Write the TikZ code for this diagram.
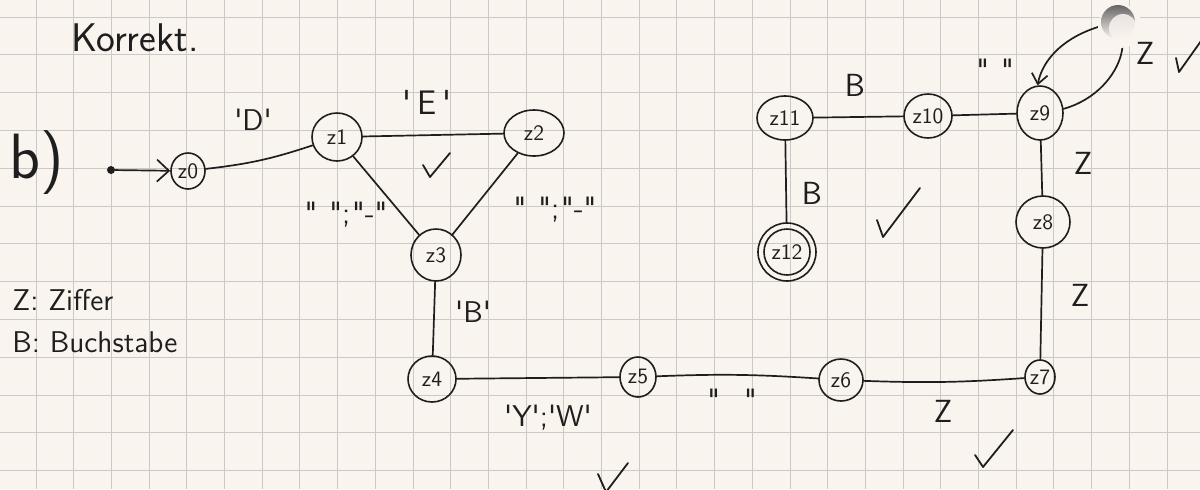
\documentclass[tikz,border=0pt]{standalone}
\usetikzlibrary{shapes.geometric,arrows.meta}
\definecolor{paper}{RGB}{250,244,239}
\definecolor{gridc}{RGB}{204,200,200}
\definecolor{ink}{RGB}{30,30,30}
\newcommand\myq{\textquotesingle}
\newcommand\mydq{\textquotedbl}
\begin{document}
\begin{tikzpicture}[x=0.5pt,y=-0.5pt,
  st/.style={draw=ink, line width=0.8pt, ellipse, inner sep=0pt, font=\sffamily\fontsize{11}{12}\selectfont, text=ink},
  edge/.style={draw=ink, line width=0.85pt, line cap=round},
  lbl/.style={font=\sffamily\fontsize{15}{17}\selectfont, text=ink, inner sep=0pt},
  chk/.style={draw=ink, line width=0.9pt, line cap=round, line join=round},
  gl/.style={draw=gridc, line width=0.5pt}]
\fill[paper] (0,0) rectangle (1200,489);
\useasboundingbox (0,0) rectangle (1200,489);
\foreach \i in {1,...,31} \draw[gl] ({-1.7+37.7*\i},0) -- ({-1.7+37.7*\i},489);
\foreach \j in {0,...,12} \draw[gl] (0,{17+37.8*\j}) -- (1200,{17+37.8*\j});

% headings and legend
\node[lbl, font=\sffamily\fontsize{20}{22}\selectfont] (title) at (135,38) {Korrekt.};
\node[lbl, font=\sffamily\fontsize{32}{34}\selectfont] (part) at (37,163) {b)};
\node[lbl, anchor=west] (leg1) at (12,300) {Z: Ziffer};
\node[lbl, anchor=west] (leg2) at (12,342) {B: Buchstabe};

% states
\node[circle, fill=ink, minimum size=4pt, inner sep=0pt] (s) at (111,170) {};
\node[st, minimum width=17pt, minimum height=18pt] (z0) at (188,171) {z0};
\node[st, minimum width=25pt, minimum height=24pt] (z1) at (337,137) {z1};
\node[st, minimum width=30pt, minimum height=23pt] (z2) at (534,133) {z2};
\node[st, minimum width=25pt, minimum height=26pt] (z3) at (436,255) {z3};
\node[st, minimum width=24pt, minimum height=23pt] (z4) at (432,379) {z4};
\node[st, minimum width=18pt, minimum height=20pt] (z5) at (638,377) {z5};
\node[st, minimum width=22pt, minimum height=21pt] (z6) at (841,380) {z6};
\node[st, minimum width=15pt, minimum height=17pt] (z7) at (1040,377) {z7};
\node[st, minimum width=27pt, minimum height=26pt] (z8) at (1043,222) {z8};
\node[st, minimum width=23pt, minimum height=27pt] (z9) at (1040,113) {z9};
\node[st, minimum width=24pt, minimum height=22pt] (z10) at (928,116) {z10};
\node[st, minimum width=28pt, minimum height=22pt] (z11) at (785,118) {z11};
\node[st, minimum width=29pt, minimum height=29pt] (z12) at (787,252) {};
\node[st, minimum width=23pt, minimum height=23pt] (z12i) at (787,252) {z12};

% transitions
\draw[edge, -{Straight Barb[length=6pt, width=11pt]}] (s) -- (z0);
\draw[edge] (z0) to[bend right=6] (z1);
\draw[edge] (z1) -- (z2);
\draw[edge] (z1) -- (z3);
\draw[edge] (z2) -- (z3);
\draw[edge] (z3) -- (z4);
\draw[edge] (z4) -- (z5);
\draw[edge] (z5) to[bend left=3] (z6);
\draw[edge] (z6) to[bend right=3] (z7);
\draw[edge] (z7) -- (z8);
\draw[edge] (z8) -- (z9);
\draw[edge] (z9) -- (z10);
\draw[edge] (z10) -- (z11);
\draw[edge] (z11) -- (z12);
\draw[edge, -{Straight Barb[length=5pt, width=8pt]}] (z9.10) .. controls (1130,90) and (1140,10) .. (1095,28) .. controls (1060,40) and (1042,62) .. (z9.95);

% punched hole
\fill[paper] (1120,26) circle[radius=11pt];
\shade[top color=black!60, bottom color=paper] (1118,22) circle[radius=8.5pt];
\fill[paper, opacity=0.85] (1123,28) circle[radius=7pt];

% labels
\node[lbl] (lD) at (253,120) {\myq D\myq};
\node[lbl, font=\sffamily\fontsize{17}{19}\selectfont] (lE) at (427,102) {\myq\,E\,\myq};
\node[lbl] (l13) at (346,215) {\mydq\hspace{6pt}\mydq;\hspace{1pt}\mydq-\mydq};
\node[lbl] (l23) at (555,210) {\mydq\hspace{6pt}\mydq;\hspace{1pt}\mydq-\mydq};
\node[lbl] (lB1) at (473,312) {\myq B\myq};
\node[lbl] (lYW) at (548,418) {\myq Y\myq;\myq W\myq};
\node[lbl] (lsp1) at (732,400) {\mydq\hspace{12pt}\mydq};
\node[lbl, font=\sffamily\fontsize{16}{18}\selectfont] (lZ1) at (943,411) {Z};
\node[lbl, font=\sffamily\fontsize{16}{18}\selectfont] (lZ2) at (1080,295) {Z};
\node[lbl, font=\sffamily\fontsize{16}{18}\selectfont] (lZ3) at (1083,163) {Z};
\node[lbl] (lsp2) at (995,70) {\mydq\hspace{6pt}\mydq};
\node[lbl, font=\sffamily\fontsize{16}{18}\selectfont] (lB2) at (855,85) {B};
\node[lbl, font=\sffamily\fontsize{16}{18}\selectfont] (lB3) at (812,193) {B};
\node[lbl, font=\sffamily\fontsize{16}{18}\selectfont] (lZ4) at (1145,53) {Z};

% check marks
\draw[chk] (423,165) -- (430,177) -- (450,153);
\draw[chk] (877,220) -- (883,237) -- (920,188);
\draw[chk] (1176,58) -- (1179,72) -- (1201,41);
\draw[chk] (975,455) -- (983,467) -- (1013,430);
\draw[chk] (598,474) -- (606,492) -- (628,463);
\end{tikzpicture}
\end{document}
